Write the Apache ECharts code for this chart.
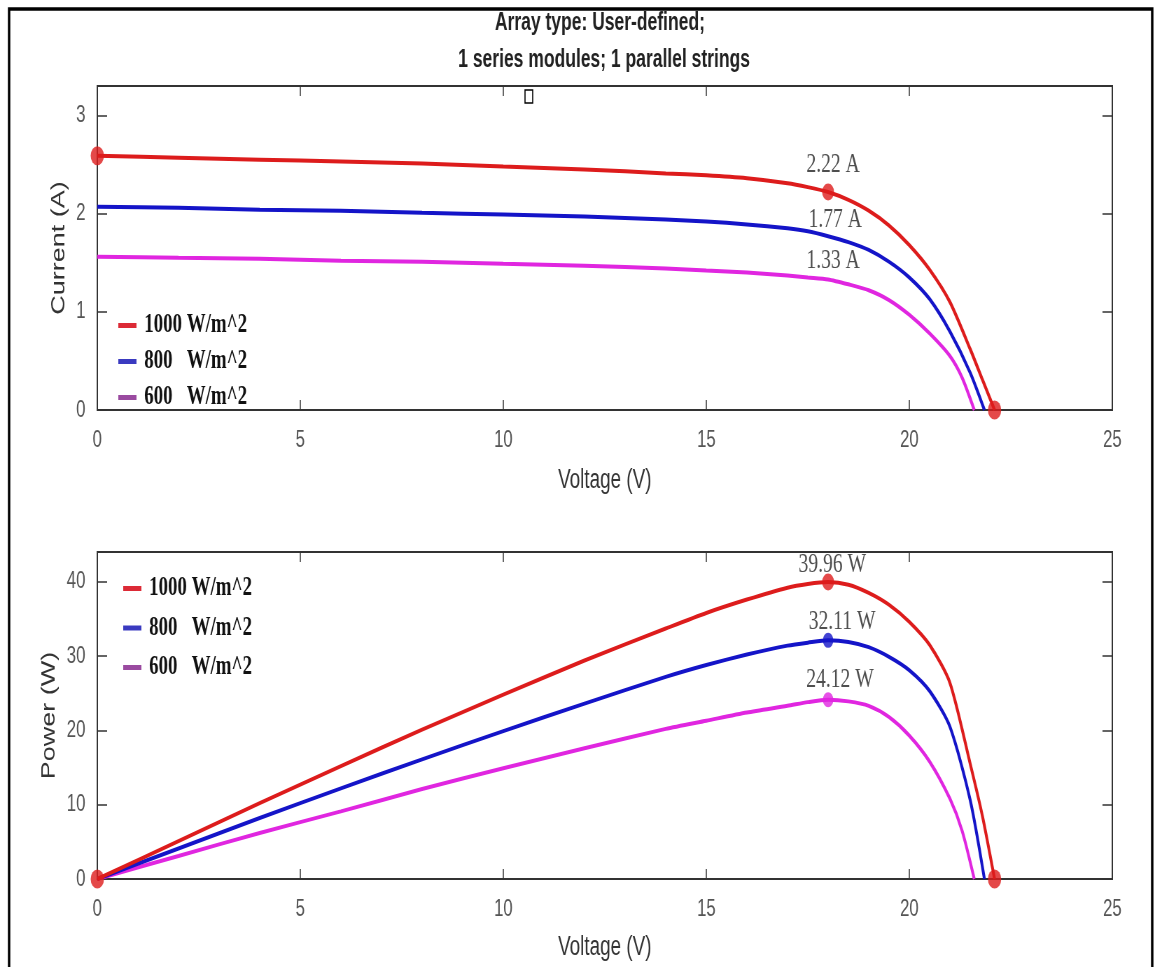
<!DOCTYPE html>
<html>
<head>
<meta charset="utf-8">
<script src="https://cdn.jsdelivr.net/npm/echarts@6/dist/echarts.min.js"></script>
<style>
  html, body { margin: 0; padding: 0; background: #fff; overflow: hidden; }
  #wrap { width: 1155px; height: 967px; overflow: hidden; }
  #chart { width: 1650px; height: 967px; transform: scaleX(0.7); transform-origin: 0 0; }
</style>
</head>
<body>
<div id="wrap"><div id="chart"></div></div>
<script>
// ---- data ----
const seriesNames = ['1000 W/m^2', '800   W/m^2', '600   W/m^2'];
const xTicks = [0, 5, 10, 15, 20, 25];

const volt1000 = [0, 2, 4, 6, 8, 10, 12, 14, 15, 16, 17, 17.5, 18, 18.5, 19, 19.5, 20, 20.5, 21, 21.5, 21.8, 22.1];
const curr1000 = [2.59, 2.57, 2.55, 2.53, 2.51, 2.48, 2.45, 2.41, 2.39, 2.36, 2.31, 2.27, 2.22, 2.14, 2.03, 1.88, 1.68, 1.43, 1.10, 0.62, 0.31, 0];
const pow1000  = [0, 5.1, 10.2, 15.2, 20.1, 24.8, 29.4, 33.7, 35.8, 37.6, 39.2, 39.7, 39.96, 39.6, 38.5, 36.9, 34.6, 31.5, 26.4, 15.5, 8.5, 0];

const volt800 = [0, 2, 4, 6, 8, 10, 12, 14, 15, 16, 17, 17.5, 18, 18.5, 19, 19.5, 20, 20.5, 21, 21.5, 21.85];
const curr800 = [2.07, 2.06, 2.04, 2.03, 2.01, 1.99, 1.97, 1.94, 1.92, 1.89, 1.85, 1.82, 1.77, 1.71, 1.63, 1.51, 1.35, 1.13, 0.80, 0.38, 0];
const pow800  = [0, 4.1, 8.2, 12.2, 16.1, 19.9, 23.6, 27.2, 28.8, 30.2, 31.4, 31.8, 32.11, 31.9, 31.2, 29.9, 28.1, 25.3, 20.5, 10.6, 0];

const volt600 = [0, 2, 4, 6, 8, 10, 12, 14, 15, 16, 17, 17.5, 18, 18.5, 19, 19.5, 20, 20.5, 21, 21.3, 21.6];
const curr600 = [1.56, 1.55, 1.54, 1.52, 1.51, 1.49, 1.47, 1.44, 1.42, 1.40, 1.37, 1.35, 1.33, 1.28, 1.22, 1.12, 0.97, 0.78, 0.55, 0.33, 0];
const pow600  = [0, 3.1, 6.2, 9.1, 12.1, 14.9, 17.6, 20.2, 21.3, 22.4, 23.3, 23.8, 24.12, 23.9, 23.3, 21.8, 19.3, 15.8, 10.8, 6.5, 0];

const mppVoltage = 18;
const mppCurrent = [2.22, 1.77, 1.33];
const mppPower = [39.96, 32.11, 24.12];
const iscPoint = [0, 2.59];
const vocPoint = [22.1, 0];
const originPoint = [0, 0];

// ---- styling ----
const lineColors = ['#dd1c1c', '#1414c8', '#e026e0'];
const legendColors = ['#dc2a36', '#3a3ac0', '#9a4aa0'];
const sansFont = 'Liberation Sans, Arial, sans-serif';
const serifFont = 'Liberation Serif, Times New Roman, serif';
const gridWidth = 1450;

const chart = echarts.init(document.getElementById('chart'), null, { renderer: 'canvas' });

function pairs(xs, ys) { return xs.map((x, i) => [x, ys[i]]); }

const tickStyle = { color: '#333', width: 1.5 };

function mainX(gi, gap) {
  return {
    type: 'value', gridIndex: gi, min: 0, max: 25, interval: 5, position: 'bottom',
    name: 'Voltage (V)', nameLocation: 'middle', nameGap: gap,
    nameTextStyle: { fontFamily: sansFont, fontSize: 27, color: '#333' },
    axisLine: { show: true, onZero: false, lineStyle: { color: '#333', width: 2 } },
    axisTick: { show: true, inside: true, length: 10, lineStyle: tickStyle },
    axisLabel: { margin: 18, fontFamily: sansFont, fontSize: 24, color: '#555' },
    splitLine: { show: false }
  };
}
function mirrorX(gi) {
  return {
    type: 'value', gridIndex: gi, min: 0, max: 25, interval: 5, position: 'top',
    axisLine: { show: false, onZero: false }, axisLabel: { show: false }, splitLine: { show: false },
    axisTick: { show: true, inside: true, length: 10, lineStyle: tickStyle }
  };
}
function mainY(gi, max, interval, name, gap) {
  return {
    type: 'value', gridIndex: gi, min: 0, max: max, interval: interval, position: 'left',
    name: name, nameLocation: 'middle', nameGap: gap,
    nameTextStyle: { fontFamily: sansFont, fontSize: 27, color: '#333' },
    axisLine: { show: true, onZero: false, lineStyle: { color: '#333', width: 2 } },
    axisTick: { show: true, inside: true, length: 14, lineStyle: tickStyle },
    axisLabel: { margin: 17, fontFamily: sansFont, fontSize: 24, color: '#555', showMaxLabel: false },
    splitLine: { show: false }
  };
}
function mirrorY(gi, max, interval, offset, inside) {
  return {
    type: 'value', gridIndex: gi, min: 0, max: max, interval: interval, position: 'right', offset: offset,
    axisLine: { show: false, onZero: false }, axisLabel: { show: false }, splitLine: { show: false },
    axisTick: { show: true, inside: inside, length: 14, lineStyle: tickStyle }
  };
}

function curve(name, xs, ys, color, xi, yi, z) {
  return {
    type: 'line', name: name, xAxisIndex: xi, yAxisIndex: yi, z: z,
    data: pairs(xs, ys), showSymbol: false, symbol: 'none',
    smooth: 0.25,
    lineStyle: { color: color, width: 4 }, itemStyle: { color: color }
  };
}

const labelBase = { show: true, position: 'inside', fontFamily: serifFont, fontSize: 28, color: '#222' };

const topMarkers = [
  { value: iscPoint, symbolSize: 19, itemStyle: { color: lineColors[0] } },
  { value: [mppVoltage, mppCurrent[0]], symbolSize: 17, itemStyle: { color: lineColors[0] },
    label: Object.assign({}, labelBase, { offset: [7, -27], formatter: mppCurrent[0].toFixed(2) + ' A' }) },
  { value: [mppVoltage, mppCurrent[1]], symbolSize: 0, itemStyle: { color: lineColors[1] },
    label: Object.assign({}, labelBase, { offset: [10, -17], formatter: mppCurrent[1].toFixed(2) + ' A' }) },
  { value: [mppVoltage, mppCurrent[2]], symbolSize: 0, itemStyle: { color: lineColors[2] },
    label: Object.assign({}, labelBase, { offset: [7, -19], formatter: mppCurrent[2].toFixed(2) + ' A' }) },
  { value: vocPoint, symbolSize: 19, itemStyle: { color: lineColors[0] } }
];
const bottomMarkers = [
  { value: originPoint, symbolSize: 19, itemStyle: { color: lineColors[0] } },
  { value: [mppVoltage, mppPower[0]], symbolSize: 17, itemStyle: { color: lineColors[0] },
    label: Object.assign({}, labelBase, { offset: [6, -17], formatter: mppPower[0].toFixed(2) + ' W' }) },
  { value: [mppVoltage, mppPower[1]], symbolSize: 15, itemStyle: { color: lineColors[1] },
    label: Object.assign({}, labelBase, { offset: [20, -19], formatter: mppPower[1].toFixed(2) + ' W' }) },
  { value: [mppVoltage, mppPower[2]], symbolSize: 15, itemStyle: { color: lineColors[2] },
    label: Object.assign({}, labelBase, { offset: [17, -20], formatter: mppPower[2].toFixed(2) + ' W' }) },
  { value: vocPoint, symbolSize: 19, itemStyle: { color: lineColors[0] } }
];

function legendCfg(left, top, gap) {
  return {
    orient: 'vertical', left: left, top: top, itemGap: gap,
    itemWidth: 26, itemHeight: 5, icon: 'rect', selectedMode: false,
    data: seriesNames.map((n, i) => ({ name: n, icon: 'rect', itemStyle: { color: legendColors[i] } })),
    textStyle: { fontFamily: serifFont, fontWeight: 'bold', fontSize: 27, color: '#111', lineHeight: 24, padding: [0, 0, 0, 6] }
  };
}

const option = {
  backgroundColor: '#fff',
  animation: false,
  grid: [
    { left: 139, top: 86, width: gridWidth, height: 324, show: true, borderColor: '#333', borderWidth: 2, backgroundColor: 'transparent' },
    { left: 139, top: 552, width: gridWidth, height: 327, show: true, borderColor: '#333', borderWidth: 2, backgroundColor: 'transparent' }
  ],
  xAxis: [mainX(0, 57), mirrorX(0), mainX(1, 55), mirrorX(1)],
  yAxis: [
    mainY(0, 3.3, 1, 'Current (A)', 34), mirrorY(0, 3.3, 1, 0, true),
    mainY(1, 44, 10, 'Power (W)', 34), mirrorY(1, 44, 10, 0, true),
    mirrorY(0, 3.3, 1, -gridWidth, false), mirrorY(1, 44, 10, -gridWidth, false)
  ],
  legend: [legendCfg(164, 307, 9), legendCfg(171, 570, 12.5)],
  graphic: [
    { type: 'rect', shape: { x: 13, y: 9, width: 1633, height: 1000 }, style: { fill: 'none', stroke: '#000', lineWidth: 3.5 }, silent: true },
    { type: 'text', x: 857, y: 23, style: { text: 'Array type: User-defined;', font: 'bold 25px Liberation Sans, Arial, sans-serif', fill: '#222', textAlign: 'center', textVerticalAlign: 'middle' } },
    { type: 'text', x: 863, y: 60, style: { text: '1 series modules; 1 parallel strings', font: 'bold 25px Liberation Sans, Arial, sans-serif', fill: '#222', textAlign: 'center', textVerticalAlign: 'middle' } },
    { type: 'rect', shape: { x: 750, y: 90, width: 11, height: 13 }, style: { fill: '#fff', stroke: '#000', lineWidth: 1.6 }, z: 100 }
  ],
  series: [
    curve(seriesNames[2], volt600, curr600, lineColors[2], 0, 0, 2),
    curve(seriesNames[1], volt800, curr800, lineColors[1], 0, 0, 3),
    curve(seriesNames[0], volt1000, curr1000, lineColors[0], 0, 0, 4),
    curve(seriesNames[2], volt600, pow600, lineColors[2], 2, 2, 2),
    curve(seriesNames[1], volt800, pow800, lineColors[1], 2, 2, 3),
    curve(seriesNames[0], volt1000, pow1000, lineColors[0], 2, 2, 4),
    { type: 'scatter', name: 'topPoints', xAxisIndex: 0, yAxisIndex: 0, z: 10, clip: false, symbol: 'circle', data: topMarkers },
    { type: 'scatter', name: 'bottomPoints', xAxisIndex: 2, yAxisIndex: 2, z: 10, clip: false, symbol: 'circle', data: bottomMarkers }
  ]
};
chart.setOption(option);
</script>
</body>
</html>
